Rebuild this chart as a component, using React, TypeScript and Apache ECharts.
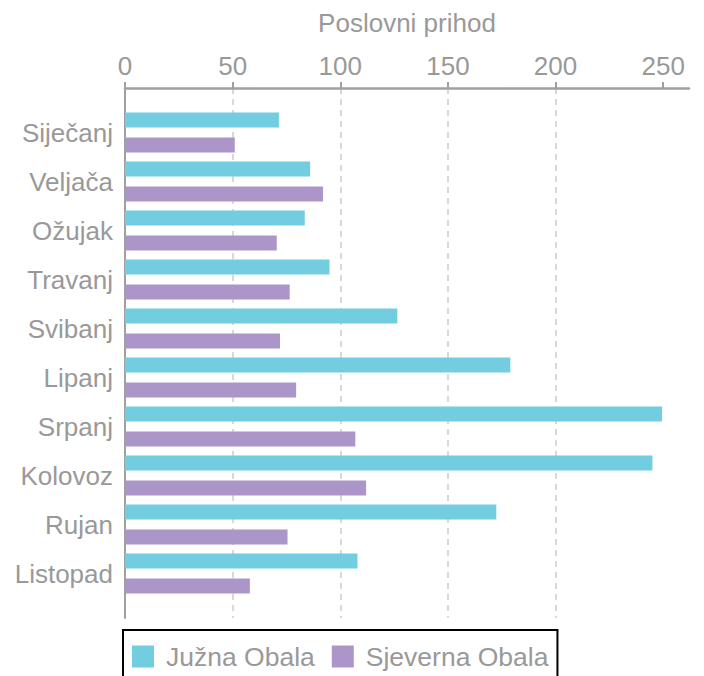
import React, { useEffect, useRef } from "react";
import * as echarts from "echarts";

const months = ["Siječanj", "Veljača", "Ožujak", "Travanj", "Svibanj", "Lipanj", "Srpanj", "Kolovoz", "Rujan", "Listopad"];
const juznaObala = [71.5, 86, 83.5, 95, 126.5, 179, 249.5, 245, 172.5, 108];
const sjevernaObala = [51, 92, 70.5, 76.5, 72, 79.5, 107, 112, 75.5, 58];
const seriesNames = ["Južna Obala", "Sjeverna Obala"];
const axisName = "Poslovni prihod";
const xTicks = [0, 50, 100, 150, 200, 250];
const xMax = 262;
const xInterval = 50;

const FONT = "'Liberation Sans', Arial, sans-serif";
const GRAY = "#999999";

export default function App() {
  const ref = useRef<HTMLDivElement>(null);
  useEffect(() => {
    if (!ref.current) return;
    const chart = echarts.init(ref.current, undefined, { renderer: "svg" });
    chart.setOption({
      animation: false,
      textStyle: { fontFamily: FONT },
      grid: [
        { left: 125, right: 15, top: 88, bottom: 58 },
        { left: 125, right: 15, top: 108, bottom: 78 },
      ],
      legend: {
        data: seriesNames,
        left: 123,
        top: 630,
        orient: "horizontal",
        icon: "rect",
        itemWidth: 22,
        itemHeight: 22,
        itemGap: 17,
        padding: [13, 9, 11, 9],
        borderColor: "#000",
        borderWidth: 2,
        textStyle: { color: GRAY, fontSize: 26.5, fontFamily: FONT, padding: [0, 0, 0, 7] },
      },
      xAxis: [
        {
          type: "value",
          gridIndex: 0,
          position: "top",
          min: 0,
          max: xMax,
          interval: xInterval,
          name: axisName,
          nameLocation: "middle",
          nameGap: 52,
          nameTextStyle: { color: GRAY, fontSize: 26, fontFamily: FONT },
          axisLine: { show: true, onZero: false, lineStyle: { color: "#a0a0a0", width: 2.5 } },
          axisTick: { show: true, length: 6, customValues: xTicks, lineStyle: { color: "#a0a0a0", width: 2 } },
          axisLabel: { color: GRAY, fontSize: 26, fontFamily: FONT, margin: 9, customValues: xTicks },
          splitLine: { show: true, showMaxLine: false, showMinLine: false, lineStyle: { color: "#cccccc", width: 1.5, type: [6, 5] } },
        },
        {
          type: "value",
          gridIndex: 1,
          min: 0,
          max: xMax,
          show: false,
        },
      ],
      yAxis: [
        {
          type: "value",
          gridIndex: 0,
          min: 0,
          max: 1,
          axisLine: { show: true, onZero: false, lineStyle: { color: "#a0a0a0", width: 2 } },
          axisTick: { show: false },
          axisLabel: { show: false },
          splitLine: { show: false },
        },
        {
          type: "category",
          gridIndex: 1,
          data: months,
          inverse: true,
          axisLine: { show: false },
          axisTick: { show: false },
          axisLabel: { color: GRAY, fontSize: 26, fontFamily: FONT, margin: 12 },
          splitLine: { show: false },
        },
      ],
      series: [
        {
          name: seriesNames[0],
          type: "bar",
          xAxisIndex: 1,
          yAxisIndex: 1,
          data: juznaObala,
          barWidth: 15,
          barGap: "66%",
          itemStyle: { color: "#72cde0" },
        },
        {
          name: seriesNames[1],
          type: "bar",
          xAxisIndex: 1,
          yAxisIndex: 1,
          data: sjevernaObala,
          barWidth: 15,
          barGap: "66%",
          itemStyle: { color: "#ab95c9" },
        },
      ],
    });
    return () => chart.dispose();
  }, []);
  return <div ref={ref} style={{ width: 704, height: 676, position: "absolute", left: 0, top: 0 }} />;
}
